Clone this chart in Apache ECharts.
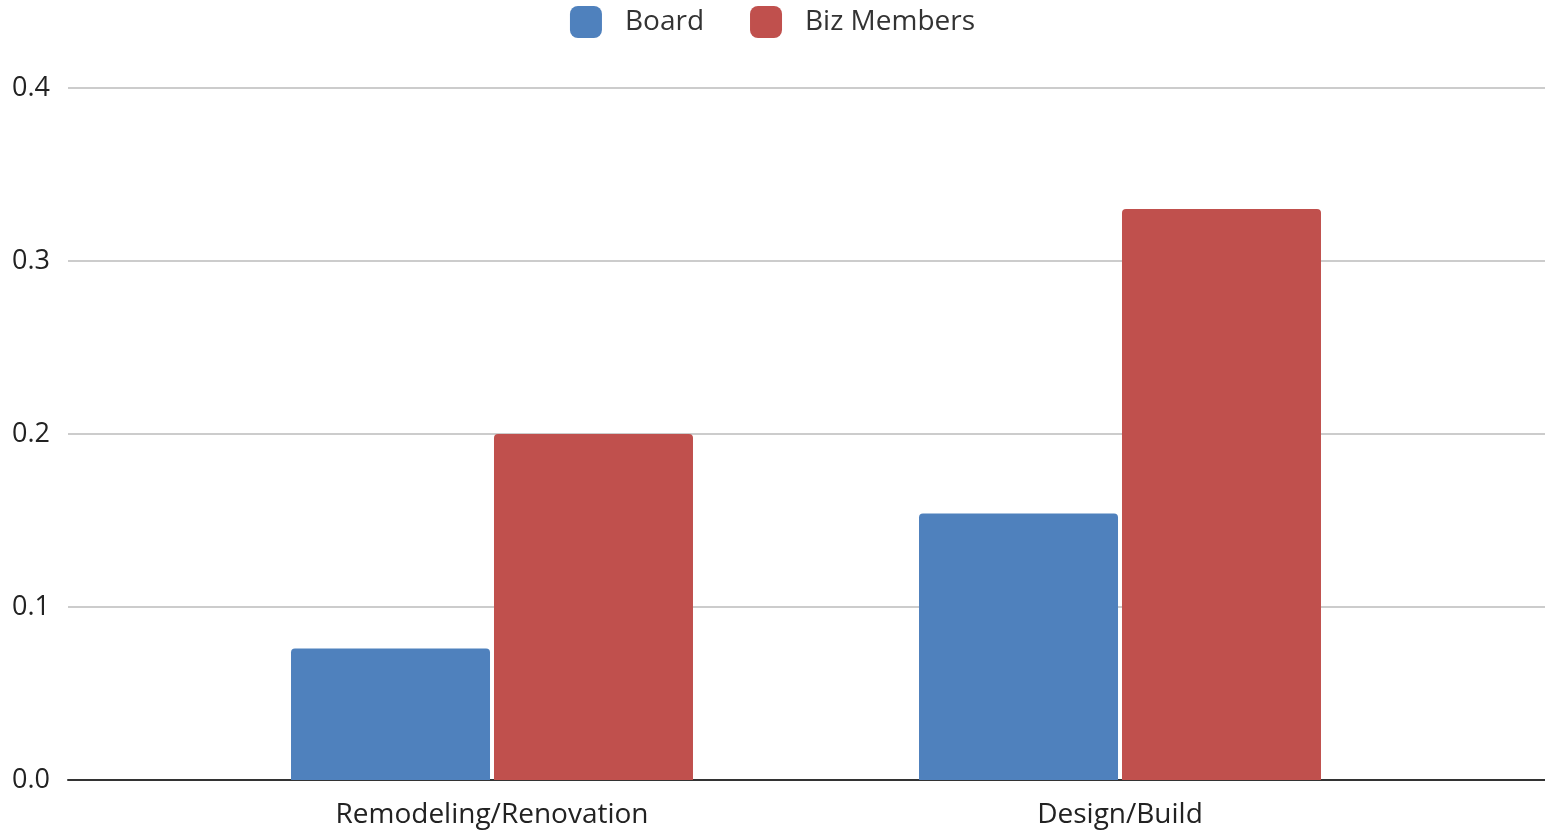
<!DOCTYPE html>
<html>
<head>
<meta charset="utf-8">
<script src="https://cdn.jsdelivr.net/npm/echarts@6/dist/echarts.min.js"></script>
<style>
html,body{margin:0;padding:0;background:#fff;}
#chart{width:1545px;height:832px;}
</style>
</head>
<body>
<div id="chart"></div>
<script>
const categories = ['Remodeling/Renovation', 'Design/Build'];
const seriesNames = ['Board', 'Biz Members'];
const boardValues = [0.076, 0.154];
const bizValues = [0.2, 0.33];
const yTicks = { min: 0, max: 0.4, interval: 0.1 };

const FONT = '"Open Sans", "Noto Sans", sans-serif';
const chart = echarts.init(document.getElementById('chart'));
chart.setOption({
  backgroundColor: '#fff',
  animation: false,
  legend: {
    top: 1,
    left: 'center',
    itemWidth: 32,
    itemHeight: 32,
    itemGap: 46,
    icon: 'roundRect',
    textStyle: { fontFamily: FONT, fontSize: 28, color: '#333', padding: [0, 0, 0, 18] },
    data: seriesNames
  },
  grid: [
    { left: 68, right: 0, top: 88, bottom: 52 },
    { left: 178, width: 1256, top: 88, bottom: 52 }
  ],
  xAxis: [
    { type: 'category', gridIndex: 0, data: [''], axisLine: { show: true, lineStyle: { color: '#333', width: 2 } },
      axisTick: { show: false }, axisLabel: { show: false }, splitLine: { show: false } },
    { type: 'category', gridIndex: 1, data: categories, axisLine: { show: false }, axisTick: { show: false },
      axisLabel: { fontFamily: FONT, fontSize: 28, color: '#222', margin: 21 } }
  ],
  yAxis: [
    { type: 'value', gridIndex: 0, min: yTicks.min, max: yTicks.max, interval: yTicks.interval,
      axisLine: { show: false }, axisTick: { show: false },
      axisLabel: { fontFamily: FONT, fontSize: 27, color: '#222', margin: 18, formatter: v => v.toFixed(1) },
      splitLine: { lineStyle: { color: '#cccccc', width: 2 } } },
    { type: 'value', gridIndex: 1, min: yTicks.min, max: yTicks.max, interval: yTicks.interval,
      axisLine: { show: false }, axisTick: { show: false }, axisLabel: { show: false }, splitLine: { show: false } }
  ],
  series: [
    { name: seriesNames[0], type: 'bar', xAxisIndex: 1, yAxisIndex: 1, data: boardValues,
      barWidth: 199, barGap: '2%', itemStyle: { color: '#4F81BD', borderRadius: [4, 4, 0, 0] } },
    { name: seriesNames[1], type: 'bar', xAxisIndex: 1, yAxisIndex: 1, data: bizValues,
      barWidth: 199, barGap: '2%', itemStyle: { color: '#C0504D', borderRadius: [4, 4, 0, 0] } }
  ]
});
</script>
</body>
</html>
